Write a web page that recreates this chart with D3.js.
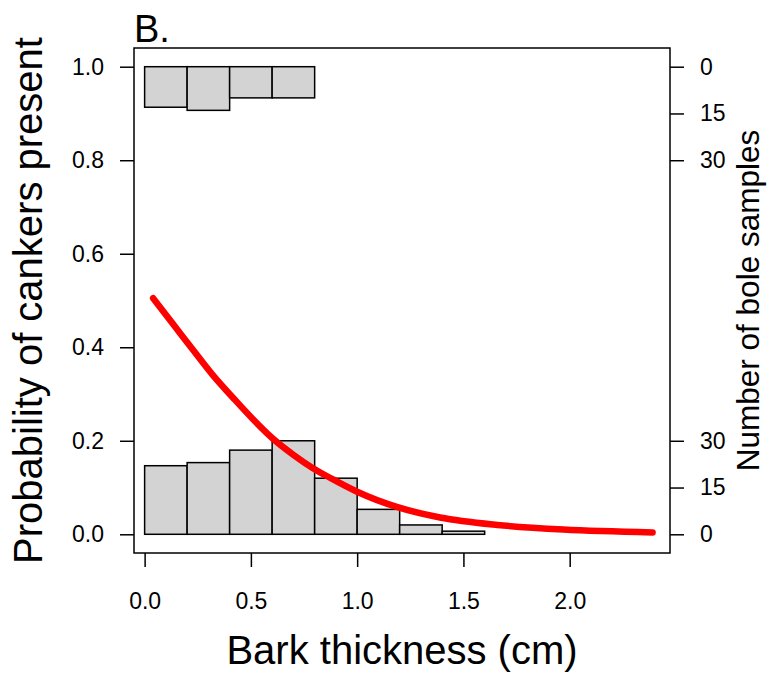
<!DOCTYPE html>
<html>
<head>
<meta charset="utf-8">
<script src="https://cdn.jsdelivr.net/npm/d3@7"></script>
<style>
  html, body { margin: 0; padding: 0; background: #fff; }
  svg { display: block; font-family: "Liberation Sans", Arial, Helvetica, sans-serif; }
</style>
</head>
<body>
<svg id="chart" width="768" height="673"></svg>
<script>
// ---- data ----
const binEdges = [0, 0.2, 0.4, 0.6, 0.8, 1.0, 1.2, 1.4, 1.6];
// cankers absent (bottom histogram, counts)
const absentCounts = [22, 23, 27, 30, 18, 8, 3, 1];
// cankers present (top histogram, counts, drawn downward from 1)
const presentCounts = [13, 14, 10, 10];
// fitted curve
const curveX = [0.04, 0.14, 0.23, 0.32, 0.42, 0.51, 0.60, 0.70, 0.79, 0.88, 1.00, 1.19, 1.39, 1.66, 1.97, 2.39];
const curveP = [0.505, 0.446, 0.393, 0.341, 0.290, 0.246, 0.206, 0.170, 0.142, 0.119, 0.091, 0.058, 0.036, 0.020, 0.010, 0.004];
const xTicks = [0, 0.5, 1.0, 1.5, 2.0];
const yTicks = [0, 0.2, 0.4, 0.6, 0.8, 1.0];
const countTicks = [0, 15, 30];

// ---- layout ----
const svg = d3.select("#chart");
const mLeft = 134, mRight = 670, mTop = 48, mBottom = 553;
const x = d3.scaleLinear().domain([-0.05, 2.472]).range([mLeft, mRight]);
const y = d3.scaleLinear().domain([-0.04, 1.04]).range([mBottom, mTop]);
const cBottom = d3.scaleLinear().domain([0, 30]).range([y(0), y(0.2)]);
const cTop = d3.scaleLinear().domain([0, 30]).range([y(1), y(0.8)]);

const tickLen = 14;
const tickFont = 23;

// bins
const absentBins = absentCounts.map((c, i) => ({x0: binEdges[i], x1: binEdges[i + 1], c}));
const presentBins = presentCounts.map((c, i) => ({x0: binEdges[i], x1: binEdges[i + 1], c}));

svg.append("g").selectAll("rect").data(absentBins).join("rect")
  .attr("x", d => x(d.x0)).attr("width", d => x(d.x1) - x(d.x0))
  .attr("y", d => cBottom(d.c)).attr("height", d => cBottom(0) - cBottom(d.c))
  .attr("fill", "#d3d3d3").attr("stroke", "#000").attr("stroke-width", 1.5);

svg.append("g").selectAll("rect").data(presentBins).join("rect")
  .attr("x", d => x(d.x0)).attr("width", d => x(d.x1) - x(d.x0))
  .attr("y", d => cTop(0)).attr("height", d => cTop(d.c) - cTop(0))
  .attr("fill", "#d3d3d3").attr("stroke", "#000").attr("stroke-width", 1.5);

// curve
const pts = curveX.map((v, i) => [v, curveP[i]]);
svg.append("path").datum(pts)
  .attr("d", d3.line().x(d => x(d[0])).y(d => y(d[1])).curve(d3.curveMonotoneX))
  .attr("fill", "none").attr("stroke", "#ff0000").attr("stroke-width", 6.5)
  .attr("stroke-linecap", "round").attr("stroke-linejoin", "round");

// box
svg.append("rect").attr("x", mLeft).attr("y", mTop).attr("width", mRight - mLeft).attr("height", mBottom - mTop)
  .attr("fill", "none").attr("stroke", "#000").attr("stroke-width", 1.5);

// axes
function styleAxis(g) {
  g.select(".domain").remove();
  g.selectAll(".tick line").attr("stroke", "#000").attr("stroke-width", 1.5);
  g.selectAll(".tick text").attr("font-size", tickFont).attr("fill", "#000")
    .attr("font-family", '"Liberation Sans", Arial, Helvetica, sans-serif');
}
svg.append("g").attr("transform", `translate(0,${mBottom})`)
  .call(d3.axisBottom(x).tickValues(xTicks).tickFormat(d3.format(".1f")).tickSize(tickLen).tickPadding(26))
  .call(styleAxis);
svg.append("g").attr("transform", `translate(${mLeft},0)`)
  .call(d3.axisLeft(y).tickValues(yTicks).tickFormat(d3.format(".1f")).tickSize(tickLen).tickPadding(16))
  .call(styleAxis);
svg.append("g").attr("transform", `translate(${mRight},0)`)
  .call(d3.axisRight(cBottom).tickValues(countTicks).tickFormat(d3.format("d")).tickSize(tickLen).tickPadding(16))
  .call(styleAxis);
svg.append("g").attr("transform", `translate(${mRight},0)`)
  .call(d3.axisRight(cTop).tickValues(countTicks).tickFormat(d3.format("d")).tickSize(tickLen).tickPadding(16))
  .call(styleAxis);

// titles
svg.append("text").attr("x", (mLeft + mRight) / 2).attr("y", 664).attr("text-anchor", "middle")
  .attr("font-size", 40).text("Bark thickness (cm)");
svg.append("text").attr("transform", `translate(42,${(mTop + mBottom) / 2}) rotate(-90)`).attr("text-anchor", "middle")
  .attr("font-size", 40).text("Probability of cankers present");
svg.append("text").attr("transform", `translate(759,${(mTop + mBottom) / 2}) rotate(-90)`).attr("text-anchor", "middle")
  .attr("font-size", 31.5).text("Number of bole samples");
svg.append("text").attr("x", 134).attr("y", 42).attr("font-size", 38).text("B.");
</script>
</body>
</html>
